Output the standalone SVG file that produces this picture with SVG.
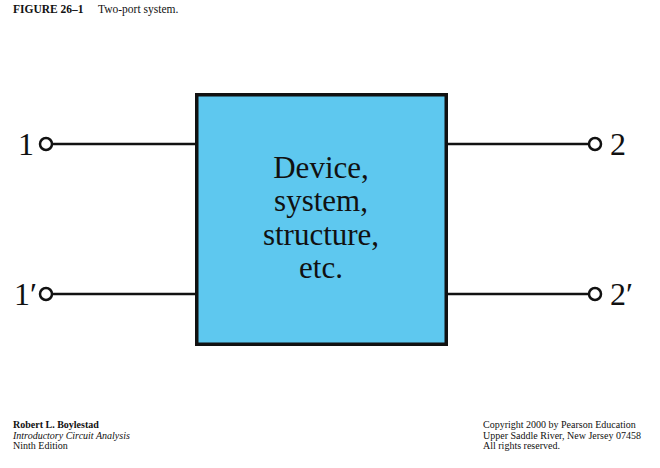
<svg xmlns="http://www.w3.org/2000/svg" width="660" height="468" viewBox="0 0 660 468">
<style>
.t{font-family:"Liberation Serif","Times New Roman",serif;fill:#111}
.big{font-size:32px}
.box{font-size:31px;text-anchor:middle}
.sm{font-size:10px}
.hd{font-size:11.5px}
.wire{stroke:#111;stroke-width:2.5;fill:none}
.term{stroke:#111;stroke-width:2.5;fill:#fff}
</style>
<rect width="660" height="468" fill="#fff"/>
<text class="t hd" x="13" y="13"><tspan font-weight="bold">FIGURE 26–1</tspan><tspan x="98">Two-port system.</tspan></text>
<g id="connectors">
<line class="wire" x1="52" y1="144" x2="197" y2="144"/>
<line class="wire" x1="52" y1="294" x2="197" y2="294"/>
<line class="wire" x1="446" y1="144" x2="589" y2="144"/>
<line class="wire" x1="446" y1="294" x2="589" y2="294"/>
</g>
<g id="device">
<rect x="196.75" y="94.75" width="249.5" height="249.5" fill="#5ec8ef" stroke="#111" stroke-width="3.5"/>
<text class="t box" x="321" y="178">Device,</text>
<text class="t box" x="321" y="211">system,</text>
<text class="t box" x="321" y="245">structure,</text>
<text class="t box" x="321" y="278">etc.</text>
</g>
<g id="port1">
<circle class="term" cx="46" cy="144" r="6"/>
<text class="t big" x="18" y="155">1</text>
</g>
<g id="port1p">
<circle class="term" cx="46" cy="294" r="6"/>
<text class="t big" x="14" y="305">1′</text>
</g>
<g id="port2">
<circle class="term" cx="595" cy="144" r="6"/>
<text class="t big" x="610" y="155">2</text>
</g>
<g id="port2p">
<circle class="term" cx="595" cy="294" r="6"/>
<text class="t big" x="610" y="305">2′</text>
</g>
<text class="t sm" x="13" y="428" font-weight="bold">Robert L. Boylestad</text>
<text class="t sm" x="13" y="438.5" font-style="italic">Introductory Circuit Analysis</text>
<text class="t sm" x="13" y="449">Ninth Edition</text>
<text class="t sm" x="483" y="428">Copyright 2000 by Pearson Education</text>
<text class="t sm" x="483" y="438.5">Upper Saddle River, New Jersey 07458</text>
<text class="t sm" x="483" y="449">All rights reserved.</text>
</svg>
